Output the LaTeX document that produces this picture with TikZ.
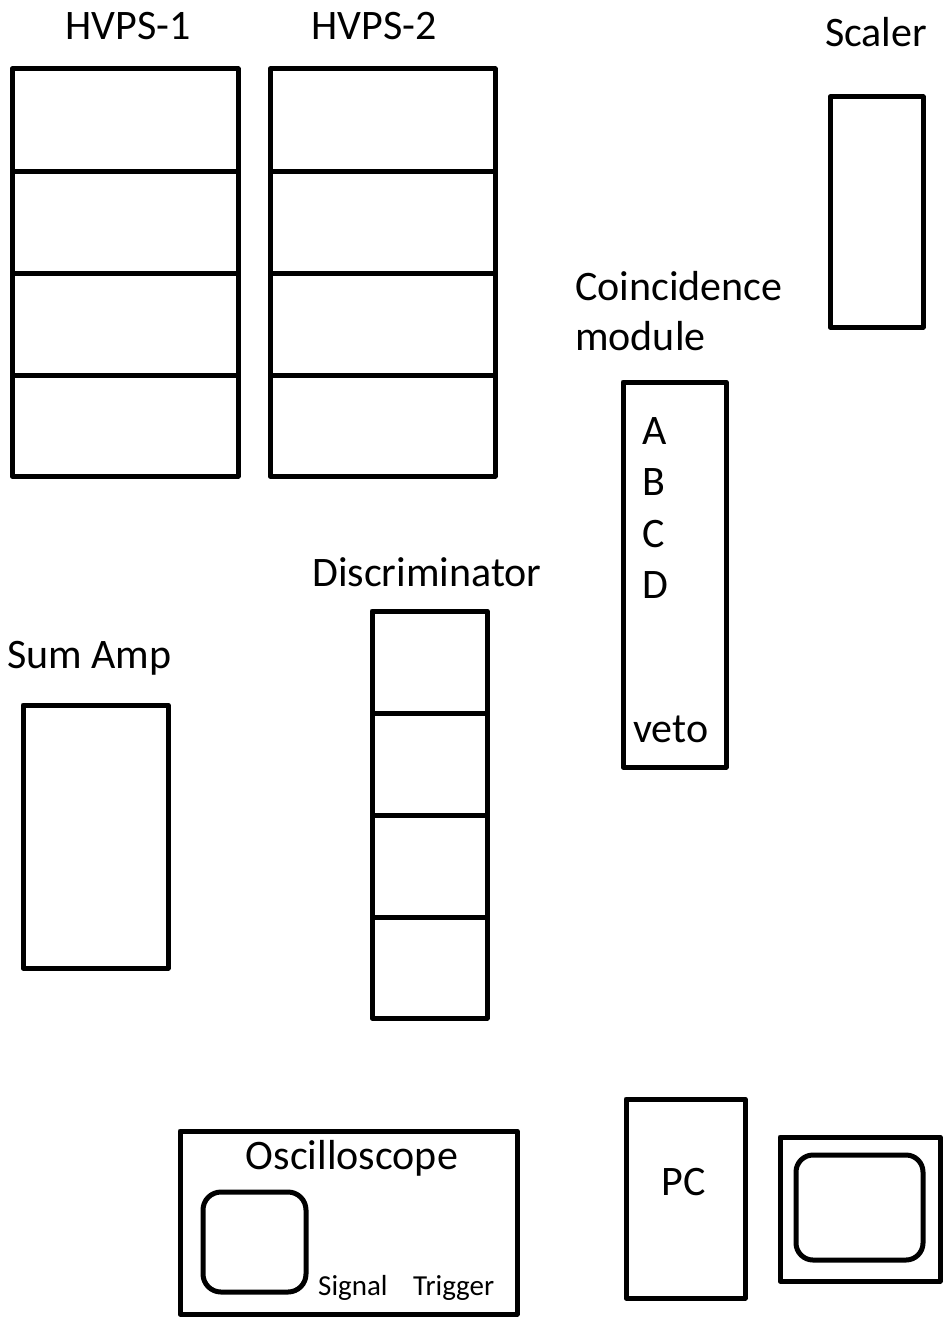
\documentclass[tikz,border=0pt]{standalone}
\usepackage{fontspec}
\setmainfont{Carlito}
\begin{document}
\begin{tikzpicture}[x=1pt,y=-1pt,
  box/.style={draw=black,line width=5pt,line join=round},
  rbox/.style={draw=black,line width=5pt,rounded corners=18pt},
  big/.style={inner sep=0pt,font=\fontsize{42}{50}\selectfont},
  small/.style={inner sep=0pt,font=\fontsize{29}{35}\selectfont}]
\useasboundingbox (0,0) rectangle (942,1319);
% HVPS-1
\draw[box] (12,69) rectangle (238,476);
\foreach \y in {171,273,375} \draw[box] (12,\y) -- (238,\y);
\node[big,anchor=base] (lhv1) at (128,40) {HVPS-1};
% HVPS-2
\draw[box] (270,69) rectangle (495,476);
\foreach \y in {171,273,375} \draw[box] (270,\y) -- (495,\y);
\node[big,anchor=base] (lhv2) at (374,40) {HVPS-2};
% Scaler
\draw[box] (830,97) rectangle (923,327);
\node[big,anchor=base] (lsc) at (876,47) {Scaler};
% Coincidence module
\node[big,anchor=base west] (lco1) at (575,300) {Coincidence};
\node[big,anchor=base west] (lco2) at (575,350) {module};
\draw[box] (623,382) rectangle (726,767);
\node[big,anchor=base west] (ca) at (642,444) {A};
\node[big,anchor=base west] (cb) at (642,495) {B};
\node[big,anchor=base west] (cc) at (642,547) {C};
\node[big,anchor=base west] (cd) at (642,598) {D};
\node[big,anchor=base west] (cv) at (633,742) {veto};
% Discriminator
\node[big,anchor=base] (ldi) at (427,586) {Discriminator};
\draw[box] (372,611) rectangle (487,1018);
\foreach \y in {713,815,917} \draw[box] (372,\y) -- (487,\y);
% Sum Amp
\node[big,anchor=base west] (lsa) at (7,668) {Sum Amp};
\draw[box] (23,705) rectangle (168,968);
% Oscilloscope
\draw[box] (180,1131) rectangle (517,1314);
\node[big,anchor=base] (los) at (352,1169) {Oscilloscope};
\draw[rbox] (203,1192) rectangle (306,1292);
\node[small,anchor=base west] (sig) at (318,1295) {Signal};
\node[small,anchor=base west] (trg) at (413,1295) {Trigger};
% PC
\draw[box] (626,1099) rectangle (745,1298);
\node[big,anchor=base] (lpc) at (684,1195) {PC};
% Monitor
\draw[box] (780,1137) rectangle (940,1281);
\draw[rbox,rounded corners=17pt] (796,1155) rectangle (923,1260);
\end{tikzpicture}
\end{document}
